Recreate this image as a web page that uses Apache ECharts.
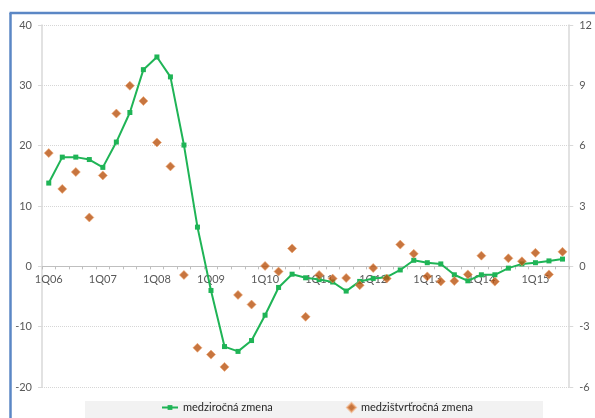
<!DOCTYPE html>
<html>
<head>
<meta charset="utf-8">
<script src="https://cdn.jsdelivr.net/npm/echarts@6/dist/echarts.min.js"></script>
<style>
  html, body { margin: 0; padding: 0; background: #fff; }
  #chart { width: 595px; height: 418px; }
</style>
</head>
<body>
<div id="chart"></div>
<script>
// Quarters 1Q06 .. 3Q15
const quarters = [];
for (let y = 6; y <= 15; y++) {
  for (let q = 1; q <= 4; q++) {
    if (y === 15 && q > 3) break;
    quarters.push(q + 'Q' + (y < 10 ? '0' + y : y));
  }
}

// Year-on-year change (left axis, %)
const yoyChange = [
  13.8, 18.1, 18.1, 17.7, 16.4, 20.6, 25.5, 32.6, 34.7, 31.4,
  20.1, 6.5, -4.0, -13.3, -14.1, -12.3, -8.1, -3.5, -1.3, -1.9,
  -2.2, -2.6, -4.1, -2.5, -2.0, -1.8, -0.6, 1.0, 0.6, 0.4,
  -1.4, -2.4, -1.4, -1.4, -0.3, 0.4, 0.6, 0.9, 1.2
];

// Quarter-on-quarter change (right axis, %)
const qoqChange = [
  5.63, 3.85, 4.69, 2.43, 4.52, 7.60, 8.98, 8.22, 6.16, 4.97,
  -0.43, -4.05, -4.39, -5.00, -1.42, -1.90, 0.02, -0.26, 0.89, -2.51,
  -0.43, -0.61, -0.58, -0.94, -0.08, -0.61, 1.08, 0.62, -0.50, -0.75,
  -0.73, -0.40, 0.53, -0.76, 0.40, 0.25, 0.67, -0.40, 0.72
];

const leftTicks = { min: -20, max: 40, interval: 10 };
const rightTicks = { min: -6, max: 12, interval: 3 };

const seriesNames = ['medziročná zmena', 'medzištvrťročná zmena'];

const font = 'Lato, "Liberation Sans", sans-serif';
const textColor = '#595959';
const axisGrey = '#bfbfbf';

const W = 595, H = 418;
const gridBox = { left: 42, right: 23, top: 25, bottom: 31 };
// category axis sits on the zero line of the left value axis
const plotH = H - gridBox.top - gridBox.bottom;
const zeroFromBottom = plotH * (0 - leftTicks.min) / (leftTicks.max - leftTicks.min);

const chart = echarts.init(document.getElementById('chart'), null, { renderer: 'canvas' });

chart.setOption({
  animation: false,
  backgroundColor: '#ffffff',
  textStyle: { fontFamily: font },
  grid: Object.assign({ containLabel: false }, gridBox),
  graphic: [
    // legend band
    { type: 'rect', z: 0, shape: { x: 85, y: 401, width: 458, height: 17 }, style: { fill: '#f2f2f2' } },
    // outer frame
    { type: 'line', z: 10, shape: { x1: 10.5, y1: 13, x2: 10.5, y2: 418 }, style: { stroke: '#5b87c5', lineWidth: 2.5 } },
    { type: 'line', z: 10, shape: { x1: 9.5, y1: 13, x2: 595, y2: 13 }, style: { stroke: '#5b87c5', lineWidth: 2.5 } }
  ],
  legend: [
    {
      data: [seriesNames[0]], left: 161, top: 402, padding: 0,
      itemWidth: 16, itemHeight: 6, itemGap: 0,
      textStyle: { fontFamily: font, fontSize: 11, color: '#262626' }
    },
    {
      data: [seriesNames[1]], left: 346, top: 402, padding: 0,
      itemWidth: 9, itemHeight: 9, itemGap: 0,
      textStyle: { fontFamily: font, fontSize: 11, color: '#262626' }
    }
  ],
  xAxis: {
    type: 'category',
    data: quarters,
    boundaryGap: true,
    offset: -zeroFromBottom,
    axisLine: { onZero: false, lineStyle: { color: axisGrey, width: 1 } },
    axisTick: { show: true, interval: 0, length: 3, lineStyle: { color: axisGrey } },
    axisLabel: { interval: 3, color: textColor, fontSize: 11, fontFamily: font, margin: 8 },
    splitLine: { show: false }
  },
  yAxis: [
    {
      type: 'value', position: 'left',
      min: leftTicks.min, max: leftTicks.max, interval: leftTicks.interval,
      axisLine: { show: true, lineStyle: { color: '#d9d9d9', width: 1.5 } },
      axisTick: { show: true, length: 4, lineStyle: { color: '#d9d9d9' } },
      axisLabel: { color: textColor, fontSize: 11, fontFamily: font, margin: 10 },
      splitLine: { show: true, lineStyle: { color: '#d6d6d6', type: 'dotted', width: 1 } }
    },
    {
      type: 'value', position: 'right',
      min: rightTicks.min, max: rightTicks.max, interval: rightTicks.interval,
      axisLine: { show: true, lineStyle: { color: '#d9d9d9', width: 1.5 } },
      axisTick: { show: true, length: 4, lineStyle: { color: '#d9d9d9' } },
      axisLabel: { color: textColor, fontSize: 11, fontFamily: font, margin: 10 },
      splitLine: { show: false }
    }
  ],
  series: [
    {
      name: seriesNames[0],
      type: 'line',
      yAxisIndex: 0,
      data: yoyChange,
      symbol: 'rect',
      symbolSize: 5,
      z: 3,
      itemStyle: { color: '#1fb456' },
      lineStyle: { color: '#1fb456', width: 2 }
    },
    {
      name: seriesNames[1],
      type: 'scatter',
      yAxisIndex: 1,
      data: qoqChange,
      symbol: 'diamond',
      symbolSize: 9,
      z: 4,
      itemStyle: { color: '#b9530f', borderColor: 'rgba(240,165,110,0.75)', borderWidth: 1 }
    }
  ]
});
</script>
</body>
</html>
